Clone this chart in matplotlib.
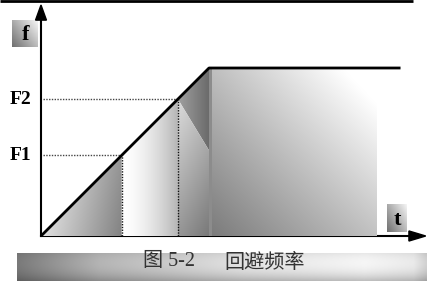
import numpy as np
import matplotlib
matplotlib.use("Agg")
import matplotlib.pyplot as plt
from matplotlib.patches import Polygon, Rectangle, FancyArrow

# ---- data (normalised units: t along time axis, f along frequency axis) ----
t_ramp_end = 1.0          # end of acceleration ramp
f_max = 1.0               # final frequency
F1 = 0.48                 # first jump frequency
F2 = 0.815                # second jump frequency
t_plateau_end = 2.14      # end of drawn plateau line
t_block_end = 2.0         # right edge of shaded block
t_axis_end = 2.29         # tip of t axis arrow
f_axis_end = 1.375        # tip of f axis arrow
wedge_bottom_f = 0.51     # lower end of the diagonal in the F2 wedge
freq_labels = ["F1", "F2"]
freq_values = [F1, F2]
caption_fig = "图 5-2"
caption_title = "回避频率"

plt.rcParams['font.family'] = ['Liberation Serif', 'Noto Sans CJK SC', 'DejaVu Sans']

W, H = 429, 281
fig = plt.figure(figsize=(W / 100, H / 100), dpi=100)
ax = fig.add_axes([0, 0, 1, 1])
ppu = 168.0
x0px, y0px = 41.0, 236.0
ax.set_xlim(-x0px / ppu, (W - x0px) / ppu)
ax.set_ylim((y0px - H) / ppu, y0px / ppu)
ax.axis('off')


def grad_fill(verts, func, z=1):
    verts = np.asarray(verts, float)
    xmin, ymin = verts.min(0)
    xmax, ymax = verts.max(0)
    n = 200
    u = np.linspace(0, 1, n)[None, :].repeat(n, 0)
    v = np.linspace(1, 0, n)[:, None].repeat(n, 1)  # v=1 top, 0 bottom
    g = np.clip(func(u, v), 0, 255) / 255.0
    img = np.dstack([g, g, g])
    im = ax.imshow(img, extent=(xmin, xmax, ymin, ymax), origin='upper',
                   interpolation='bilinear', zorder=z, aspect='auto')
    poly = Polygon(verts, closed=True, facecolor='none', edgecolor='none',
                   transform=ax.transData)
    ax.add_patch(poly)
    im.set_clip_path(poly)


tF1 = F1 * t_ramp_end / f_max
tF2 = F2 * t_ramp_end / f_max

# x-axis line (under fills)
ax.plot([0, t_axis_end - 0.07], [0, 0], color='black', lw=1.5, zorder=0.5)

# left triangle 0..tF1
grad_fill([(0, 0), (tF1, F1), (tF1, 0)],
          lambda u, v: 225 - 95 * u + 20 * v)
# middle region tF1..tF2
grad_fill([(tF1, 0), (tF1, F1), (tF2, F2), (tF2, 0)],
          lambda u, v: 255 - 75 * u ** 1.6)
# wedge upper part
grad_fill([(tF2, F2), (t_ramp_end, f_max), (t_ramp_end, wedge_bottom_f)],
          lambda u, v: 160 - 55 * u)
# wedge lower part
grad_fill([(tF2, F2), (t_ramp_end, wedge_bottom_f), (t_ramp_end, 0), (tF2, 0)],
          lambda u, v: 150 + 70 * v - 30 * u)
# big block
grad_fill([(t_ramp_end, 0), (t_ramp_end, f_max), (t_block_end, f_max), (t_block_end, 0)],
          lambda u, v: 122 + 72 * u + 68 * v + 10 * u * v)
# thin darker strip at block left edge
ax.add_patch(Rectangle((t_ramp_end, 0), 0.018, f_max, facecolor='#8c8c8c',
                       edgecolor='none', zorder=1.2))

# ramp + plateau
ax.plot([0, t_ramp_end, t_plateau_end], [0, f_max, f_max], color='black',
        lw=2.0, zorder=3, solid_capstyle='butt')

# dotted guide lines
for fv in freq_values:
    ax.plot([0.01, fv], [fv, fv], color='#444444', lw=1.0, ls=(0, (1, 1)), zorder=2.5)
    ax.plot([fv, fv], [0, fv], color='#111111', lw=1.0, ls=(0, (1, 1)), zorder=2.5)

# labels F1, F2
for lab, fv in zip(freq_labels, freq_values):
    ax.text(-0.06, fv, lab, ha='right', va='center', fontsize=14,
            fontweight='bold', family=['Liberation Serif'], zorder=4)

# y axis with arrow
ax.plot([0, 0], [0, f_axis_end - 0.08], color='black', lw=1.5, zorder=3)
ax.add_patch(FancyArrow(0, f_axis_end - 0.09, 0, 0.09, width=0.0, head_width=0.065,
                        head_length=0.09, length_includes_head=True,
                        color='black', zorder=4))
# x axis arrow head
ax.add_patch(FancyArrow(t_axis_end - 0.1, 0, 0.1, 0, width=0.0, head_width=0.06,
                        head_length=0.1, length_includes_head=True,
                        color='black', zorder=4))


def label_box(x0, y0, w, h, txt, fs):
    grad_fill([(x0, y0), (x0 + w, y0), (x0 + w, y0 + h), (x0, y0 + h)],
              lambda u, v: 110 + 80 * u + 60 * v, z=3)
    ax.text(x0 + w / 2, y0 + h / 2 - 0.01, txt, ha='center', va='center',
            fontsize=fs, fontweight='bold', family=['Liberation Serif'], zorder=5)

label_box(-0.172, 1.125, 0.155, 0.16, "f", 16)
label_box(2.06, 0.024, 0.12, 0.166, "t", 16)

# top rule line
ax.plot([-x0px / ppu, (413 - x0px) / ppu], [(y0px - 0.8) / ppu] * 2,
        color='black', lw=2.0, zorder=5, solid_capstyle='butt')

# caption bar
cb_x0 = (17 - x0px) / ppu
cb_x1 = (427 - x0px) / ppu
cb_y0 = (y0px - 281) / ppu
cb_y1 = (y0px - 253) / ppu


def cap_grad(u, v):
    base = np.interp(u, [0, 0.2, 0.55, 0.85, 0.97, 1.0], [125, 185, 232, 252, 240, 215])
    edge = 1 - 0.25 * (1 - v) ** 3 - 0.08 * v ** 4
    return base * edge

grad_fill([(cb_x0, cb_y0), (cb_x1, cb_y0), (cb_x1, cb_y1), (cb_x0, cb_y1)],
          cap_grad, z=1)
cy = (y0px - 262) / ppu
ax.text((143 - x0px) / ppu, cy, caption_fig, ha='left', va='center',
        fontsize=14.5, color='#333333', zorder=5,
        family=['Liberation Serif', 'Noto Sans CJK SC'])
ax.text((224 - x0px) / ppu, cy, caption_title, ha='left', va='center',
        fontsize=14.5, color='#333333', zorder=5, family=['Noto Sans CJK SC'])

fig.savefig("out.png", dpi=100)
